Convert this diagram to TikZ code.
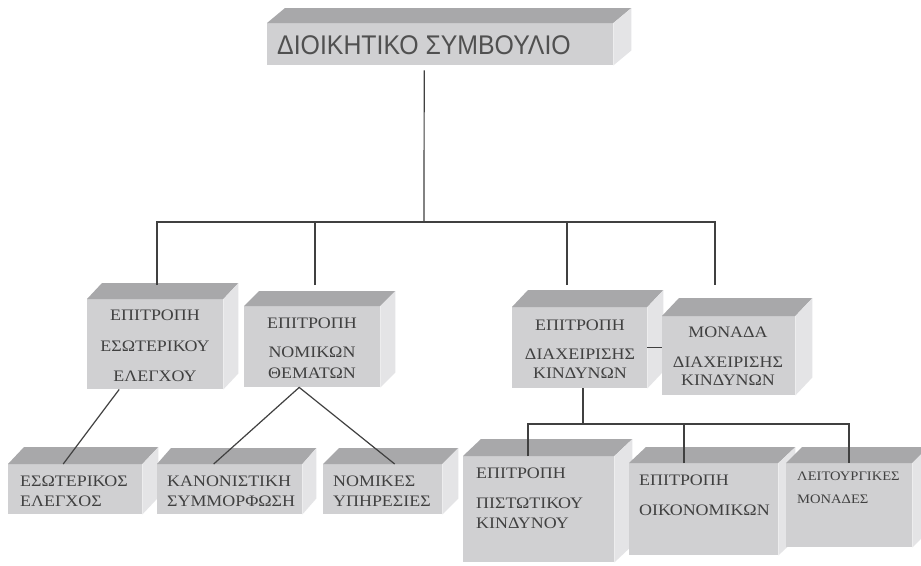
\documentclass[tikz,border=0pt]{standalone}
\usepackage{fontspec}
\setmainfont[FakeStretch=1.12]{Liberation Serif}
\newfontfamily\topfont[FakeStretch=0.92]{Liberation Sans}
\definecolor{frontc}{HTML}{D0D0D2}
\definecolor{topc}{HTML}{A8A8AA}
\definecolor{sidec}{HTML}{E4E4E6}
\definecolor{ink}{HTML}{404040}
\definecolor{topink}{HTML}{505050}
\definecolor{linec}{HTML}{404040}
\tikzset{
  face/.style={fill=frontc, draw=none, inner sep=0pt, anchor=north west},
  lbl/.style={text=ink, inner sep=0pt, anchor=base, font=\fontsize{16}{19}\selectfont},
  lbll/.style={lbl, anchor=base west},
  lbls/.style={lbll, font=\fontsize{13}{16}\selectfont},
  conn/.style={draw=linec, line width=1.2pt},
}
\newcommand\boxthreed[7]{%
  \node[face, minimum width={#4-#2}, minimum height={#5-#3}] (#1) at (#2,#3) {};
  \fill[topc] (#1.north west) -- ++(#6,#7) -- ([shift={(#6,#7)}]#1.north east) -- (#1.north east) -- cycle;
  \fill[sidec] (#1.north east) -- ++(#6,#7) -- ([shift={(#6,#7)}]#1.south east) -- (#1.south east) -- cycle;
}
\begin{document}
\begin{tikzpicture}[x=1pt,y=-1pt]
\useasboundingbox (0,0) rectangle (921,565);
\clip (0,0) rectangle (921,565);
\fill[white] (0,0) rectangle (921,565);
% boxes
\boxthreed{T}{267}{23}{613}{65}{18}{-15}
\boxthreed{A}{87}{299}{223}{389}{15}{-16}
\boxthreed{B}{244}{306}{380}{387}{15}{-15}
\boxthreed{C}{512}{307}{647}{388}{16}{-17}
\boxthreed{D}{662}{316}{795}{395}{17}{-18}
\boxthreed{E}{8}{464}{142}{514}{16}{-17}
\boxthreed{F}{157}{464}{302}{514}{14}{-16}
\boxthreed{G}{323}{464}{442}{514}{16}{-16}
\boxthreed{H}{463}{456}{614}{562}{18}{-17}
\boxthreed{I}{629}{463}{778}{555}{17}{-16}
\boxthreed{J}{786}{463}{912}{547}{16}{-16}
% texts
\node[anchor=base west, inner sep=0pt, text=topink, font=\topfont\fontsize{27}{30}\selectfont] (Tt) at (277,54) {ΔΙΟΙΚΗΤΙΚΟ ΣΥΜΒΟΥΛΙΟ};
\node[lbl] (A1) at (155,320) {ΕΠΙΤΡΟΠΗ};
\node[lbl] (A2) at (155,351) {ΕΣΩΤΕΡΙΚΟΥ};
\node[lbl] (A3) at (155,381) {ΕΛΕΓΧΟΥ};
\node[lbl] (B1) at (312,328) {ΕΠΙΤΡΟΠΗ};
\node[lbl] (B2) at (312,357) {ΝΟΜΙΚΩΝ};
\node[lbl] (B3) at (312,378) {ΘΕΜΑΤΩΝ};
\node[lbl] (C1) at (580,330) {ΕΠΙΤΡΟΠΗ};
\node[lbl] (C2) at (580,359) {ΔΙΑΧΕΙΡΙΣΗΣ};
\node[lbl] (C3) at (580,378) {ΚΙΝΔΥΝΩΝ};
\node[lbl] (D1) at (728,337) {ΜΟΝΑΔΑ};
\node[lbl] (D2) at (728,367) {ΔΙΑΧΕΙΡΙΣΗΣ};
\node[lbl] (D3) at (728,385) {ΚΙΝΔΥΝΩΝ};
\node[lbll] (E1) at (20,486) {ΕΣΩΤΕΡΙΚΟΣ};
\node[lbll] (E2) at (20,506) {ΕΛΕΓΧΟΣ};
\node[lbll] (F1) at (167,486) {ΚΑΝΟΝΙΣΤΙΚΗ};
\node[lbll] (F2) at (167,506) {ΣΥΜΜΟΡΦΩΣΗ};
\node[lbll] (G1) at (333,486) {ΝΟΜΙΚΕΣ};
\node[lbll] (G2) at (333,506) {ΥΠΗΡΕΣΙΕΣ};
\node[lbll] (H1) at (476,478) {ΕΠΙΤΡΟΠΗ};
\node[lbll] (H2) at (476,508) {ΠΙΣΤΩΤΙΚΟΥ};
\node[lbll] (H3) at (476,528) {ΚΙΝΔΥΝΟΥ};
\node[lbll] (I1) at (639,485) {ΕΠΙΤΡΟΠΗ};
\node[lbll] (I2) at (639,515) {ΟΙΚΟΝΟΜΙΚΩΝ};
\node[lbls] (J1) at (797,480) {ΛΕΙΤΟΥΡΓΙΚΕΣ};
\node[lbls] (J2) at (797,503) {ΜΟΝΑΔΕΣ};
% connectors
\coordinate (bus) at (424,222);
\coordinate (bA) at (157,285);
\coordinate (bB) at (315,285);
\coordinate (bC) at (567,285);
\coordinate (bD) at (715,285);
\draw[conn] ([shift={(-16,5)}]T.south) -- (bus);
\draw[conn] (bA) -- (bA |- bus) -- (bD |- bus) -- (bD);
\draw[conn] (bB) -- (bB |- bus);
\draw[conn] (bC) -- (bC |- bus);
\draw[conn] ([xshift=-36]A.south) -- ([xshift=-12]E.north);
\coordinate (Bapex) at ([xshift=-13]B.south);
\draw[conn] ([xshift=-16]F.north) -- (Bapex) -- ([xshift=12]G.north);
\draw[conn] (C.east) -- (C.east -| D.west);
\coordinate (bus2) at (583,424);
\draw[conn] (C.south -| bus2) -- (bus2);
\coordinate (hH) at (528,456);
\coordinate (hI) at (684,463);
\coordinate (hJ) at (849,463);
\draw[conn] (hH) -- (hH |- bus2) -- (hJ |- bus2) -- (hJ);
\draw[conn] (hI) -- (hI |- bus2);
\end{tikzpicture}
\end{document}
